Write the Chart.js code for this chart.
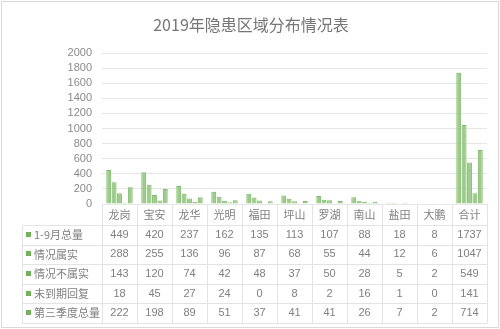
<!DOCTYPE html>
<html><head><meta charset="utf-8">
<script src="https://cdn.jsdelivr.net/npm/chart.js@4"></script>
<style>html,body{margin:0;padding:0;background:#fff}#wrap{width:500px;height:329px;position:relative}</style>
</head><body><div id="wrap"><canvas id="c" width="500" height="329"></canvas></div>
<script>
const title = '2019年隐患区域分布情况表';
const categories = ['龙岗','宝安','龙华','光明','福田','坪山','罗湖','南山','盐田','大鹏','合计'];
const seriesNames = ['1-9月总量','情况属实','情况不属实','未到期回复','第三季度总量'];
const total19 = [449,420,237,162,135,113,107,88,18,8,1737];
const verified = [288,255,136,96,87,68,55,44,12,6,1047];
const notVerified = [143,120,74,42,48,37,50,28,5,2,549];
const pending = [18,45,27,24,0,8,2,16,1,0,141];
const q3total = [222,198,89,51,37,41,41,26,7,2,714];
const seriesValues = [total19, verified, notVerified, pending, q3total];

const FONT = "'Liberation Sans','Noto Sans CJK SC',sans-serif";
const CJK = "'Noto Sans CJK SC','Liberation Sans',sans-serif";
const fill = '#9ccb8a', edge = '#7eb86b', lineC = '#e3e3e3', textC = '#808080';

const tablePlugin = {
  id: 'tablePlugin',
  afterDraw(chart) {
    const ctx = chart.ctx, x = chart.scales.x, ca = chart.chartArea;
    const rowH = 19.6, top = x.bottom, bottom = top + rowH * seriesNames.length;
    const labelLeft = 22;
    ctx.save();
    ctx.strokeStyle = '#d9d9d9'; ctx.lineWidth = 1;
    ctx.strokeRect(1.5, 1.5, 497, 326);
    ctx.fillStyle = '#767676'; ctx.font = '16px ' + CJK;
    ctx.textAlign = 'center'; ctx.textBaseline = 'middle';
    ctx.fillText(title, 251, 25);
    ctx.strokeStyle = lineC; ctx.lineWidth = 1;
    const n = categories.length;
    const w = (x.right - x.left) / n;
    for (let i = 0; i <= n; i++) {
      const px = Math.round(x.left + w * i) + 0.5;
      ctx.beginPath(); ctx.moveTo(px, ca.bottom); ctx.lineTo(px, bottom); ctx.stroke();
    }
    ctx.beginPath(); ctx.moveTo(labelLeft + 0.5, top); ctx.lineTo(labelLeft + 0.5, bottom); ctx.stroke();
    for (let r = 0; r <= seriesNames.length; r++) {
      const py = Math.round(top + rowH * r) + 0.5;
      ctx.beginPath(); ctx.moveTo(labelLeft, py); ctx.lineTo(x.right, py); ctx.stroke();
    }
    for (let r = 0; r < seriesNames.length; r++) {
      const cy = top + rowH * r + rowH / 2;
      ctx.fillStyle = '#72b05a';
      ctx.fillRect(26, Math.round(cy) - 3, 5, 5);
      ctx.fillStyle = textC; ctx.font = '11px ' + CJK;
      ctx.textAlign = 'left'; ctx.textBaseline = 'middle';
      ctx.fillText(seriesNames[r], 34, cy);
      ctx.textAlign = 'center'; ctx.font = '11px ' + FONT;
      for (let i = 0; i < n; i++) {
        ctx.fillText(String(seriesValues[r][i]), x.getPixelForValue(i), cy);
      }
    }
    ctx.restore();
  }
};

new Chart(document.getElementById('c'), {
  type: 'bar',
  data: {
    labels: categories,
    datasets: seriesNames.map((name, k) => ({
      label: name, data: seriesValues[k],
      backgroundColor: fill, borderColor: edge, borderWidth: 1,
      categoryPercentage: 0.77, barPercentage: 0.9
    }))
  },
  options: {
    responsive: false, animation: false,
    layout: { padding: { top: 53, right: 13, bottom: 104, left: 0 } },
    plugins: { legend: { display: false }, title: { display: false }, tooltip: { enabled: false } },
    scales: {
      x: {
        grid: { display: false, drawTicks: false },
        border: { display: false },
        ticks: { color: textC, font: { family: CJK, size: 11 }, padding: 4, maxRotation: 0 },
        afterFit(s) { s.height = 21; }
      },
      y: {
        min: 0, max: 2000,
        ticks: { stepSize: 200, autoSkip: false, color: '#8a8a8a', font: { family: FONT, size: 11 }, padding: 10,
                 callback: v => String(v) },
        grid: { color: '#e6e6e6', drawTicks: false },
        border: { display: false },
        afterFit(s) { s.width = 102; }
      }
    }
  },
  plugins: [tablePlugin]
});
</script></body></html>
